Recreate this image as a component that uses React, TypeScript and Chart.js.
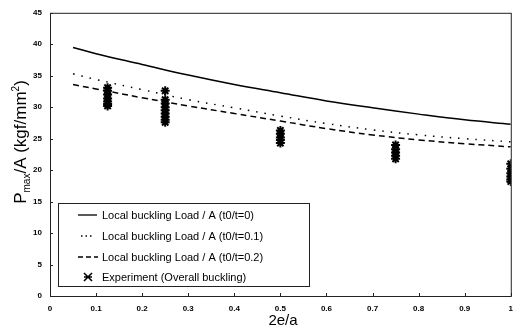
import React, { useEffect, useRef } from "react";
import { Chart, registerables } from "chart.js";

Chart.register(...registerables);

const curveX = [0.05, 0.1, 0.2, 0.3, 0.4, 0.5, 0.6, 0.7, 0.8, 0.9, 1.0];
const localT0 = [39.5, 38.5, 36.8, 35.1, 33.6, 32.3, 31.0, 29.9, 28.9, 28.0, 27.3];
const localT01 = [35.3, 34.4, 32.8, 31.2, 29.9, 28.6, 27.4, 26.4, 25.6, 25.0, 24.5];
const localT02 = [33.6, 32.9, 31.5, 30.2, 29.0, 27.8, 26.6, 25.6, 24.8, 24.2, 23.7];

const expX = [
  0.125, 0.125, 0.125, 0.125, 0.125, 0.125, 0.125,
  0.25, 0.25, 0.25, 0.25, 0.25, 0.25, 0.25, 0.25, 0.25,
  0.5, 0.5, 0.5, 0.5, 0.5,
  0.75, 0.75, 0.75, 0.75, 0.75,
  1.0, 1.0, 1.0, 1.0, 1.0, 1.0,
];
const expY = [
  33.1, 32.6, 32.0, 31.4, 30.9, 30.5, 30.2,
  32.6, 31.2, 30.6, 30.0, 29.5, 29.0, 28.5, 28.0, 27.6,
  26.3, 25.8, 25.2, 24.8, 24.3,
  24.0, 23.3, 22.8, 22.3, 21.8,
  21.0, 20.2, 19.5, 19.0, 18.5, 18.2,
];

const xTicks = [0, 0.1, 0.2, 0.3, 0.4, 0.5, 0.6, 0.7, 0.8, 0.9, 1];
const yTicks = [0, 5, 10, 15, 20, 25, 30, 35, 40, 45];

const legendLabels = [
  "Local buckling Load / A (t0/t=0)",
  "Local buckling Load / A (t0/t=0.1)",
  "Local buckling Load / A (t0/t=0.2)",
  "Experiment (Overall buckling)",
];

const xTitle = "2e/a";

const FONT = "Arial, 'Liberation Sans', sans-serif";

const decorPlugin = {
  id: "decor",
  afterDraw(chart: any) {
    const ctx = chart.ctx;
    const { left, right, top, bottom } = chart.chartArea;
    ctx.save();
    // frame
    ctx.strokeStyle = "#222";
    ctx.lineWidth = 1;
    ctx.strokeRect(left + 0.5, top + 0.5, right - left, bottom - top);
    // tick marks
    const xs = chart.scales.x;
    const ys = chart.scales.y;
    ctx.beginPath();
    xTicks.forEach((v) => {
      const px = Math.round(xs.getPixelForValue(v)) + 0.5;
      ctx.moveTo(px, bottom);
      ctx.lineTo(px, bottom - 3);
    });
    yTicks.forEach((v) => {
      const py = Math.round(ys.getPixelForValue(v)) + 0.5;
      ctx.moveTo(left, py);
      ctx.lineTo(left + 3, py);
    });
    ctx.stroke();

    // y title with sub/superscript
    ctx.fillStyle = "#000";
    ctx.translate(20, 142);
    ctx.rotate(-Math.PI / 2);
    const parts: [string, number, number][] = [
      ["P", 17, 0],
      ["max", 10, 4],
      ["/A (kgf/mm", 17, 0],
      ["2", 10, -7],
      [")", 17, 0],
    ];
    let total = 0;
    parts.forEach(([t, s]) => {
      ctx.font = `${s}px ${FONT}`;
      total += ctx.measureText(t).width;
    });
    let cx = -total / 2;
    ctx.textBaseline = "alphabetic";
    ctx.textAlign = "left";
    parts.forEach(([t, s, dy]) => {
      ctx.font = `${s}px ${FONT}`;
      ctx.fillText(t, cx, 6 + dy);
      cx += ctx.measureText(t).width;
    });
    ctx.setTransform(1, 0, 0, 1, 0, 0);

    // x title
    ctx.font = `15px ${FONT}`;
    ctx.textAlign = "center";
    ctx.textBaseline = "middle";
    ctx.fillText(xTitle, 283, 321);

    // legend
    const bx = 58, by = 203, bw = 251, bh = 83;
    ctx.fillStyle = "#fff";
    ctx.fillRect(bx, by, bw, bh);
    ctx.strokeStyle = "#222";
    ctx.lineWidth = 1;
    ctx.strokeRect(bx + 0.5, by + 0.5, bw, bh);
    const rows = [215, 236, 257, 277];
    ctx.strokeStyle = "#000";
    ctx.lineWidth = 1.3;
    ctx.setLineDash([]);
    ctx.beginPath();
    ctx.moveTo(78, rows[0]);
    ctx.lineTo(97, rows[0]);
    ctx.stroke();
    ctx.setLineDash([1.5, 3]);
    ctx.beginPath();
    ctx.moveTo(81, rows[1]);
    ctx.lineTo(92, rows[1]);
    ctx.stroke();
    ctx.setLineDash([5, 3]);
    ctx.beginPath();
    ctx.moveTo(78, rows[2]);
    ctx.lineTo(98, rows[2]);
    ctx.stroke();
    ctx.setLineDash([]);
    const sx = 88, sy = rows[3], r = 4;
    ctx.lineWidth = 1.6;
    ctx.beginPath();
    ctx.moveTo(sx - r, sy - r); ctx.lineTo(sx + r, sy + r);
    ctx.moveTo(sx + r, sy - r); ctx.lineTo(sx - r, sy + r);
    ctx.moveTo(sx - r, sy); ctx.lineTo(sx + r, sy);
    ctx.stroke();
    ctx.fillStyle = "#000";
    ctx.font = `11px ${FONT}`;
    ctx.textAlign = "left";
    ctx.textBaseline = "middle";
    legendLabels.forEach((l, i) => ctx.fillText(l, 102, rows[i] + 1));
    ctx.restore();
  },
};

export default function App() {
  const ref = useRef<HTMLCanvasElement | null>(null);
  useEffect(() => {
    if (!ref.current) return;
    const chart = new Chart(ref.current, {
      type: "scatter",
      data: {
        datasets: [
          {
            type: "line",
            label: legendLabels[0],
            data: curveX.map((x, i) => ({ x, y: localT0[i] })),
            borderColor: "#000",
            borderWidth: 1.5,
            pointRadius: 0,
            tension: 0.4,
            fill: false,
          },
          {
            type: "line",
            label: legendLabels[1],
            data: curveX.map((x, i) => ({ x, y: localT01[i] })),
            borderColor: "#000",
            borderWidth: 1.5,
            borderDash: [1.5, 7],
            pointRadius: 0,
            tension: 0.4,
            fill: false,
          },
          {
            type: "line",
            label: legendLabels[2],
            data: curveX.map((x, i) => ({ x, y: localT02[i] })),
            borderColor: "#000",
            borderWidth: 1.5,
            borderDash: [6, 4],
            pointRadius: 0,
            tension: 0.4,
            fill: false,
          },
          {
            label: legendLabels[3],
            data: expX.map((x, i) => ({ x, y: expY[i] })),
            pointStyle: "star",
            pointRadius: 4.5,
            borderColor: "#000",
            backgroundColor: "#000",
            borderWidth: 2,
          },
        ],
      },
      options: {
        responsive: false,
        animation: false,
        layout: { padding: { left: 0, right: 8, top: 9, bottom: 0 } },
        plugins: {
          legend: { display: false },
          tooltip: { enabled: false },
        },
        scales: {
          x: {
            type: "linear",
            min: 0,
            max: 1,
            afterFit: (s: any) => { s.height = 36; },
            afterBuildTicks: (s: any) => { s.ticks = xTicks.map((v) => ({ value: v })); },
            grid: { display: false, drawTicks: false, tickLength: 0 },
            border: { display: false },
            ticks: {
              padding: 8,
              color: "#000",
              font: { size: 8, weight: "bold", family: FONT },
              maxRotation: 0,
              autoSkip: false,
              callback: (v: any) => String(Math.round(Number(v) * 10) / 10),
            },
          },
          y: {
            type: "linear",
            min: 0,
            max: 45,
            afterFit: (s: any) => { s.width = 50; },
            afterBuildTicks: (s: any) => { s.ticks = yTicks.map((v) => ({ value: v })); },
            grid: { display: false, drawTicks: false, tickLength: 0 },
            border: { display: false },
            ticks: {
              padding: 8,
              color: "#000",
              font: { size: 8, weight: "bold", family: FONT },
              autoSkip: false,
            },
          },
        },
      },
      plugins: [decorPlugin],
    } as any);
    return () => chart.destroy();
  }, []);
  return (
    <div style={{ position: "fixed", left: 0, top: 0, width: 521, height: 332, background: "#fff" }}>
      <canvas ref={ref} width={521} height={332} />
    </div>
  );
}
